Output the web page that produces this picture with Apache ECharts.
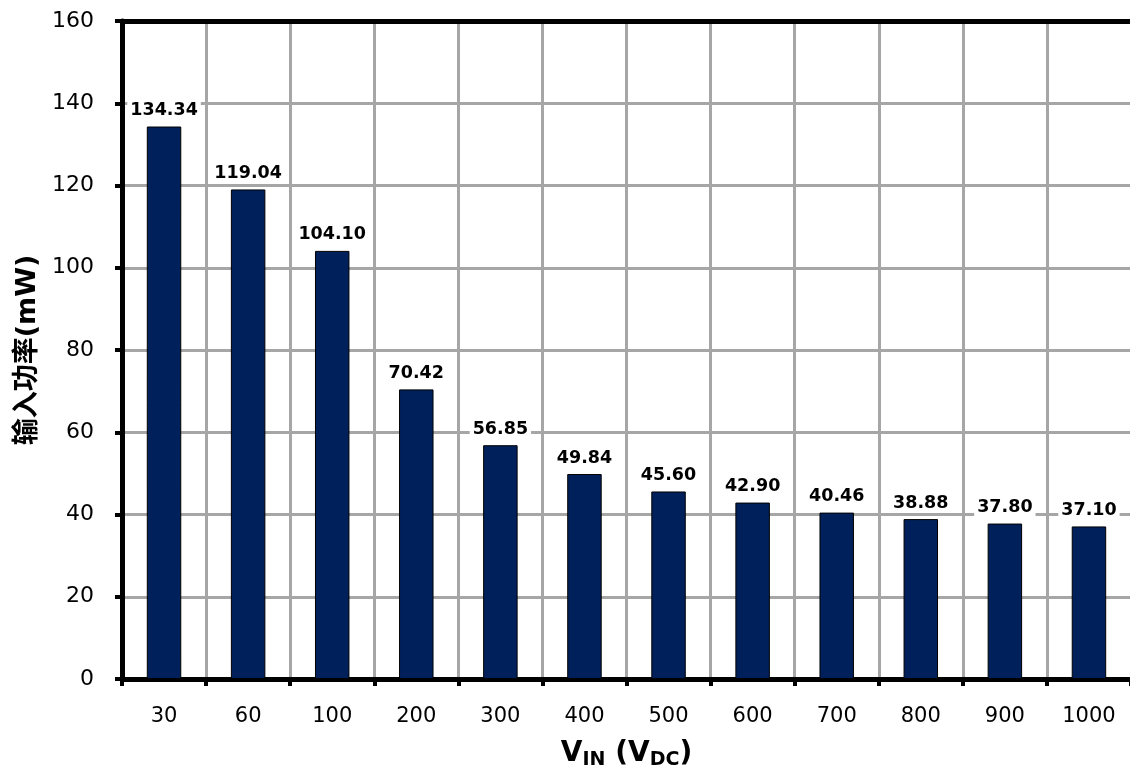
<!DOCTYPE html>
<html><head><meta charset="utf-8">
<script src="https://cdn.jsdelivr.net/npm/echarts@6/dist/echarts.min.js"></script>
<style>html,body{margin:0;padding:0;background:#fff}#c{width:1130px;height:769px}</style>
</head><body><div id="c"></div>
<script>
const categories = ['30','60','100','200','300','400','500','600','700','800','900','1000'];
const values = [134.34,119.04,104.10,70.42,56.85,49.84,45.60,42.90,40.46,38.88,37.80,37.10];
const yTicks = {min:0, max:160, interval:20};

const chart = echarts.init(document.getElementById('c'));
chart.setOption({
  animation:false,
  backgroundColor:'#fff',
  grid:{left:122, right:-1, top:21, bottom:90, containLabel:false, outerBoundsMode:'none'},
  xAxis:[{
    type:'category', data:categories, boundaryGap:true,
    axisLine:{lineStyle:{color:'#000', width:5}},
    axisTick:{show:true, alignWithLabel:false, length:7, lineStyle:{color:'#000', width:4}},
    splitLine:{show:true, lineStyle:{color:'#a6a6a6', width:3}},
    axisLabel:{color:'#000', fontFamily:'DejaVu Sans', fontSize:21, margin:27},
    name:'{b|V}{s|IN}{b| (V}{s|DC}{b|)}', nameLocation:'middle', nameGap:58,
    nameTextStyle:{rich:{
      b:{fontFamily:'DejaVu Sans', fontWeight:'bold', fontSize:28, color:'#000'},
      s:{fontFamily:'DejaVu Sans', fontWeight:'bold', fontSize:19, color:'#000', padding:[14,0,0,0]}
    }}
  },{
    type:'category', data:categories, position:'top',
    axisLine:{lineStyle:{color:'#000', width:5}},
    axisTick:{show:false}, axisLabel:{show:false}, splitLine:{show:false}
  }],
  yAxis:{
    type:'value', min:yTicks.min, max:yTicks.max, interval:yTicks.interval,
    axisLine:{show:true, lineStyle:{color:'#000', width:5}},
    axisTick:{show:true, length:7, lineStyle:{color:'#000', width:4}},
    splitLine:{show:true, lineStyle:{color:'#a6a6a6', width:3}},
    axisLabel:{color:'#000', fontFamily:'DejaVu Sans', fontSize:22, margin:28},
    name:'输入功率(mW)', nameLocation:'middle', nameGap:80,
    nameTextStyle:{fontFamily:'DejaVu Sans, Noto Sans CJK SC', fontWeight:'bold', fontSize:27, color:'#000'}
  },
  series:[{
    type:'bar', data:values, barWidth:'41%', xAxisIndex:0,
    itemStyle:{color:'#00205b', borderColor:'#000', borderWidth:1},
    label:{show:true, position:'top', distance:6, color:'#000',
      fontFamily:'DejaVu Sans', fontWeight:'bold', fontSize:17.5,
      backgroundColor:'#fff', padding:[2,3,1,3],
      formatter:p=>p.value.toFixed(2)}
  }]
});
</script></body></html>
